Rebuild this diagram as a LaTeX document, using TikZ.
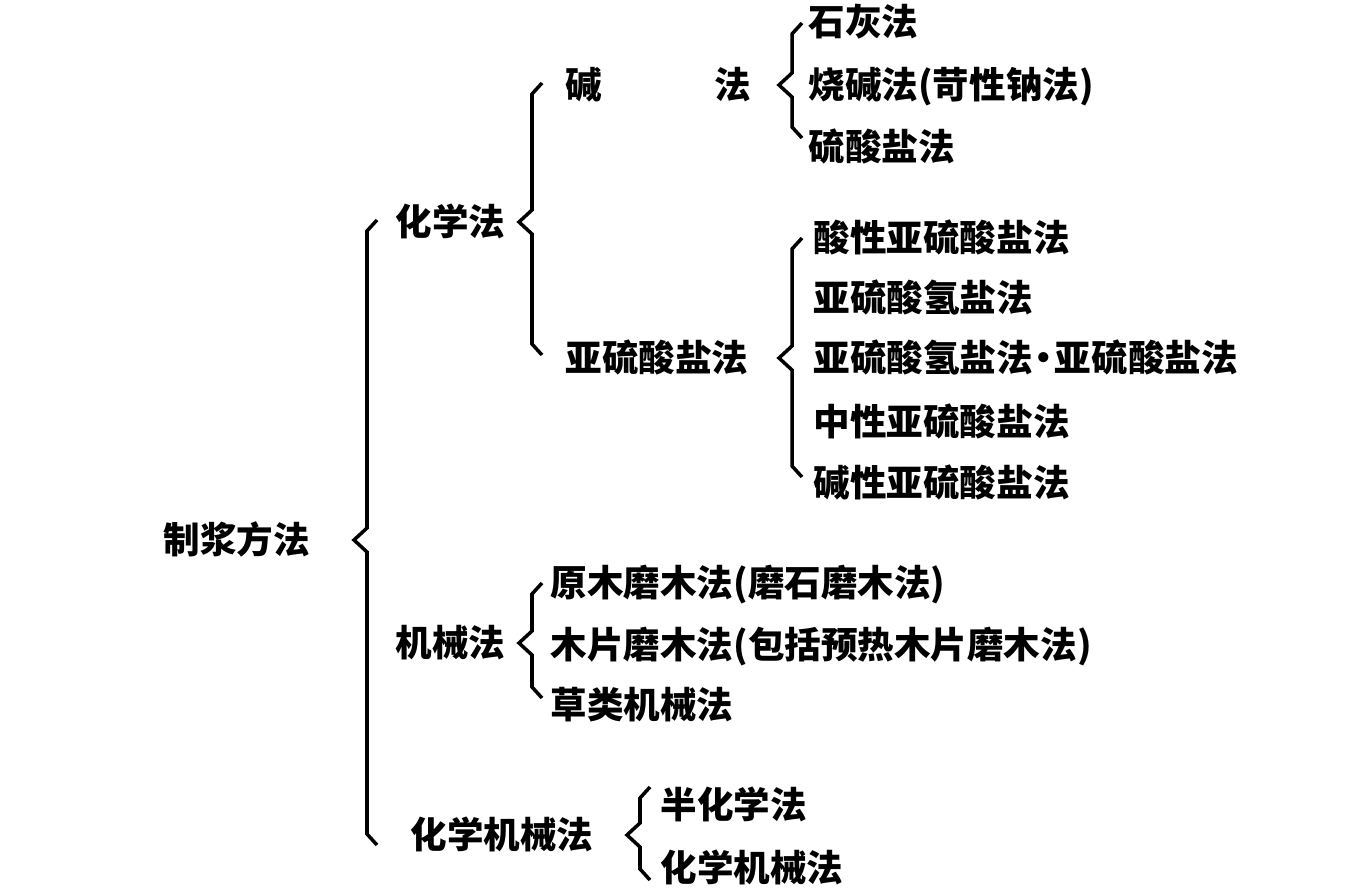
\documentclass[tikz,border=0pt]{standalone}
\usepackage{fontspec}
\newfontfamily\cjk{Noto Sans CJK SC}
\usetikzlibrary{calc}

% angled brace: spine, parent, first child, last child, top shift, bottom shift
\newcommand\angbrace[6]{%
  \draw[brace] ($(#1 |- #3)+(10,#5)$) -- ++(-10,11) -- ($(#1 |- #2)+(0,-12)$)
    -- ++(-13,12) -- ++(13,12) -- ($(#1 |- #4)+(0,#6-11)$) -- ++(10,11);}
\newcommand\middot{\makebox[0.6em][c]{·}}

\begin{document}
\begin{tikzpicture}[
  x=0.1mm, y=-0.1mm,
  item/.style={anchor=west,inner sep=0pt,text height=0.88em,text depth=0.12em,
               font=\cjk\bfseries\fontsize{10.4pt}{12pt}\selectfont},
  brace/.style={line width=1pt,line join=miter}
]
  \useasboundingbox (0,0) rectangle (1358,894);
  % root
  \node[item] (zhi) at (163,540) {制浆方法};
  % second level
  \node[item] (hua) at (395,222) {化学法};
  \node[item] (jixie) at (395,643) {机械法};
  \node[item] (hxjx) at (410,835) {化学机械法};
  % chemical
  \node[item] (jian) at (565,85) {碱\hspace{11.2mm}法};
  \node[item] (yaliu) at (565,358) {亚硫酸盐法};
  \node[item] (shi) at (808,22) {石灰法};
  \node[item] (shao) at (808,85) {烧碱法(苛性钠法)};
  \node[item] (liusuan) at (808,147) {硫酸盐法};
  \node[item] (suanxing) at (813,238) {酸性亚硫酸盐法};
  \node[item] (yaqing) at (813,298) {亚硫酸氢盐法};
  \node[item] (yaqingya) at (813,358) {亚硫酸氢盐法\middot 亚硫酸盐法};
  \node[item] (zhongxing) at (813,422) {中性亚硫酸盐法};
  \node[item] (jianxing) at (813,483) {碱性亚硫酸盐法};
  % mechanical
  \node[item] (yuanmu) at (550,583) {原木磨木法(磨石磨木法)};
  \node[item] (mupian) at (550,645) {木片磨木法(包括预热木片磨木法)};
  \node[item] (caolei) at (550,705) {草类机械法};
  % chemi-mechanical
  \node[item] (banhx) at (660,805) {半化学法};
  \node[item] (hxjx2) at (660,868) {化学机械法};
  % brace spines
  \coordinate (s0) at (367,0);
  \coordinate (s1) at (532,0);
  \coordinate (s2) at (792,0);
  \coordinate (s3) at (792,0);
  \coordinate (s4) at (532,0);
  \coordinate (s5) at (640,0);
  \angbrace{s0}{zhi}{hua}{hxjx}{-2}{10}
  \angbrace{s1}{hua}{jian}{yaliu}{-2}{-3}
  \angbrace{s2}{jian}{shi}{liusuan}{1}{-9}
  \angbrace{s3}{yaliu}{suanxing}{jianxing}{0}{-6}
  \angbrace{s4}{jixie}{yuanmu}{caolei}{0}{-7}
  \angbrace{s5}{hxjx}{banhx}{hxjx2}{-18}{12}
\end{tikzpicture}
\end{document}
